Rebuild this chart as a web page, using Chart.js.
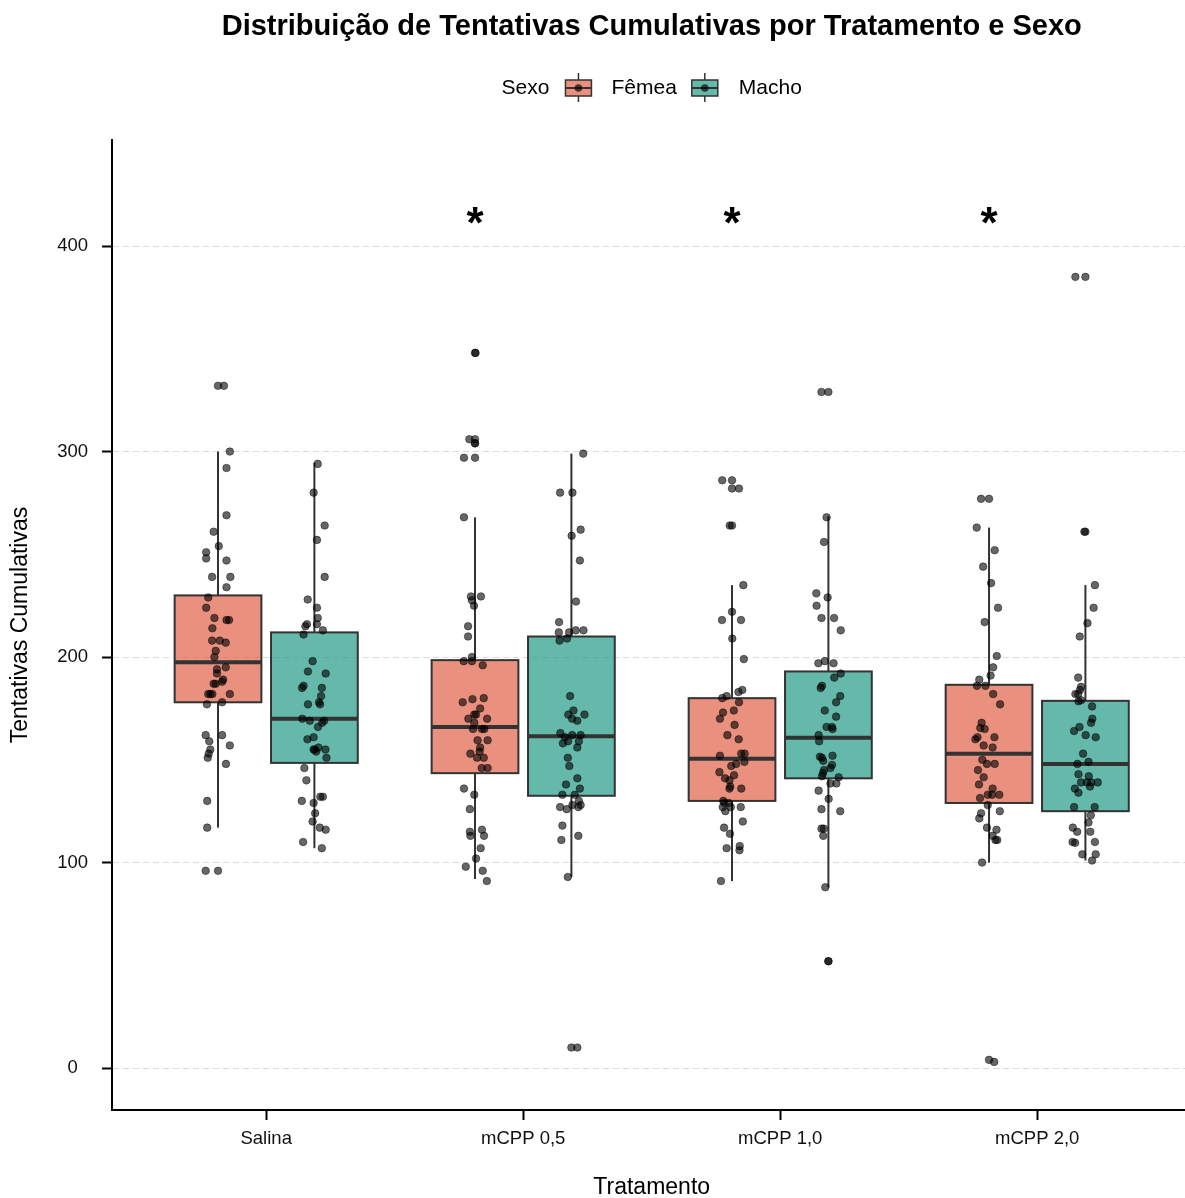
<!DOCTYPE html>
<html>
<head>
<meta charset="utf-8">
<script src="https://cdn.jsdelivr.net/npm/chart.js@4.4.1/dist/chart.umd.min.js"></script>
<style>
  html, body { margin: 0; padding: 0; background: #ffffff; overflow: hidden; width: 1185px; height: 1198px; }
  #wrap { width: 1185px; height: 1198px; overflow: hidden; }
  #chart { display: block; }
</style>
</head>
<body>
<div id="wrap"><canvas id="chart" width="1185" height="1198"></canvas></div>
<script>
// ---- categories, ticks, legend ----
const categories = ['Salina', 'mCPP 0,5', 'mCPP 1,0', 'mCPP 2,0'];
const sexes = ['Fêmea', 'Macho'];
const yTicks = [0, 100, 200, 300, 400];
const significance = ['', '*', '*', '*'];
const significanceLevel = 410;

// ---- box summaries: [lower whisker, Q1, median, Q3, upper whisker] ----
const boxFemea = [[117, 178, 197.5, 230, 300], [92, 143.5, 166, 198.5, 268], [91, 130, 150.5, 180, 235], [100, 129, 153, 186.5, 263]];
const boxMacho = [[107, 148.5, 170, 212, 294.5], [93, 132.5, 161.5, 210, 299], [88, 141, 160.7, 193, 268.5], [101, 125, 148, 178.7, 235]];
const outliersFemea = [[332, 96], [348, 306, 304, 297], [286, 282, 264], [277, 4]];
const outliersMacho = [[], [10], [329, 52], [385, 261]];

// ---- individual observations ----
const salinaFemea = [332,300,292,269,261,254,251,248,247,239,239,234,229,224,219,218,218,214,208,208,207,203,200,195,194,192,189,188,187,187,182,182,182,182,178,177,162,162,159,157,155,153,151,148,130,117,96];
const salinaMacho = [294,280,264,257,239,228,224,219,216,215,216,213,211,198,193,192,186,185,185,181,177,178,177,170,169,169,168,166,161,160,155,155,156,155,154,151,146,140,130,129,132,132,124,120,117,116,110,107];
const mcpp05Femea = [348,306,304,297,268,229.5,229.5,227.6,225,215,210,200,198,198,196,178,179.5,180,175,172,172,170,170,168,165,165,165,159.5,159.5,156,154,153,151,151,146,146,136,133,126,115,113,116,113,107,102,98,96,91];
const mcpp05Macho = [299,280,280,262,259,247,227,217,212,212,213,213,208,209,181,174,172,172,170,169,163,161,162,162,158,159,159,156,151,147,141,138,136,133,133,130,128,127,128,127,126,118,113,111,93,10];
const mcpp10Femea = [286,282,264,235,222,218,218,209,199,184,183,181,180,178,174,173,170,167,162,160,152,153,153,149,147,148,144,142.5,141,140,137,136,136,130,129,129,127,127,127,125,120,117,114,108,106,107,91];
const mcpp10Macho = [329,268,256,231,229,225,219,219,213,197,198,197,192,190,186,185,181,178,174,171,166,166,165,162,159,151.5,151,152,149.5,147.5,146,145,143.5,141.5,142,138.5,138.5,135,131,126,125,116.5,116.5,113,88,52];
const mcpp20Femea = [277,263,252,244,236,224,217,200.5,195,191,189,186,186,182,177,168,165.5,165,161,160,161,157,156,150,148,148,145,141.5,138,136,133,133,133,131.4,128,125,124,121.5,117,116,113,111,111,100,3];
const mcpp20Macho = [385,261,235,224,216.5,210,190,185.5,184,182,182,179,178.5,176,170,168,166,164,162,161,153,149,148,143,142,139,139,139,139,136,134,137,127,127,123,119.5,117,115,115,110,109.6,110,104,104,101];

// ---- horizontal jitter of each observation (category units) ----
const salinaFemeaJit = [0.023,0.046,0.033,0.033,-0.017,0.003,-0.046,-0.046,0.033,-0.023,0.048,0.033,-0.038,-0.046,-0.014,0.033,0.043,-0.022,-0.023,0.007,0.030,-0.009,-0.014,0.030,-0.004,-0.004,0.020,0.016,-0.017,-0.009,-0.038,-0.030,-0.022,0.046,0.016,-0.043,-0.048,0.016,-0.034,0.046,-0.030,-0.036,-0.040,0.031,-0.042,-0.042,-0.048];
const salinaMachoJit = [0.013,-0.003,0.040,0.010,0.040,-0.026,0.010,0.013,0.010,-0.035,-0.029,0.033,-0.042,-0.007,-0.025,0.044,-0.042,-0.048,0.029,0.026,-0.025,0.018,0.022,-0.047,-0.018,0.038,0.030,0.014,-0.003,-0.027,0.001,-0.003,0.016,0.043,0.007,0.047,-0.039,-0.031,-0.049,-0.003,0.023,0.033,0.003,-0.007,0.021,0.044,-0.044,0.029];
const mcpp05FemeaJit = [0.002,-0.022,0.000,-0.043,-0.043,-0.016,0.023,-0.012,-0.004,-0.027,-0.027,-0.012,-0.044,-0.012,0.030,-0.048,-0.010,0.034,0.020,0.004,-0.003,-0.026,0.047,-0.003,-0.008,0.027,0.036,0.010,0.049,0.020,0.018,-0.018,0.008,0.034,0.026,0.049,-0.043,-0.003,-0.020,-0.020,-0.018,0.027,0.035,0.022,0.004,-0.036,0.030,0.046];
const mcpp05MachoJit = [0.046,-0.044,0.004,0.036,0.001,0.033,0.018,-0.048,-0.049,-0.009,0.047,0.017,-0.046,-0.017,-0.005,0.008,-0.012,0.051,0.003,0.023,-0.043,-0.025,0.003,0.036,-0.033,-0.013,0.029,0.023,-0.014,-0.008,0.023,-0.021,0.033,-0.035,0.013,0.029,0.004,0.027,0.036,-0.044,-0.018,-0.035,0.027,-0.039,-0.014,0.023];
const mcpp10FemeaJit = [-0.038,0.027,-0.009,0.044,0.000,-0.039,0.035,0.001,0.046,0.040,0.025,-0.021,-0.038,0.027,0.007,-0.035,-0.047,0.010,-0.018,0.026,-0.047,0.036,0.049,0.048,-0.003,0.016,-0.049,0.008,-0.027,-0.010,-0.007,-0.010,0.036,-0.034,-0.030,-0.013,-0.036,-0.005,0.034,-0.026,0.042,-0.031,-0.008,0.030,0.029,-0.021,-0.043];
const mcpp10MachoJit = [-0.027,-0.007,-0.017,-0.047,-0.003,-0.046,-0.027,0.022,0.048,-0.039,-0.014,0.020,0.048,0.023,-0.025,-0.030,0.046,0.030,-0.014,0.030,-0.007,0.014,0.016,-0.038,-0.036,-0.033,-0.025,0.016,-0.020,0.014,0.008,-0.017,-0.021,0.040,-0.025,0.008,0.031,-0.038,0.001,-0.027,0.046,-0.027,-0.018,-0.020,-0.012,0.000];
const mcpp20FemeaJit = [-0.031,-0.048,0.022,-0.023,0.008,0.035,-0.017,0.030,0.016,0.006,-0.038,-0.047,-0.014,0.016,0.043,-0.029,-0.034,-0.017,-0.045,-0.053,0.021,-0.021,0.014,-0.026,-0.008,0.022,-0.043,-0.021,-0.039,0.014,0.012,0.040,-0.005,-0.035,-0.005,0.042,-0.031,-0.038,-0.008,0.029,0.014,0.025,0.032,-0.027,0.020];
const mcpp20MachoJit = [-0.039,-0.004,0.037,0.032,0.008,-0.022,-0.028,-0.017,-0.021,-0.039,-0.028,-0.017,-0.027,0.026,0.027,0.022,-0.023,-0.044,0.001,0.040,-0.009,0.012,-0.031,-0.027,0.013,-0.017,0.006,0.023,0.048,-0.041,-0.027,0.018,-0.044,0.036,0.021,0.012,-0.049,-0.032,0.019,-0.050,-0.040,0.037,-0.012,0.040,0.026];

// ---- layout and style ----
const FONT = '"Liberation Sans", Arial, Helvetica, sans-serif';
const DODGE = 0.1875;          // half of the dodge width between sexes
const BOX_WIDTH = 0.3375;      // width of each box in category units
const SEX_OFFSET = [-DODGE, DODGE];
const X_MIN = 0.4, X_MAX = 4.575, X_PANEL_MID = 2.5;
const FILLS = ['rgba(224,99,71,0.7)', 'rgba(35,155,136,0.7)'];
const LINE_COLOR = '#333333';
const POINT_BG = 'rgba(0,0,0,0.6)';
const POINT_BORDER = 'rgba(0,0,0,0.55)';

const femeaSets = [salinaFemea, mcpp05Femea, mcpp10Femea, mcpp20Femea];
const machoSets = [salinaMacho, mcpp05Macho, mcpp10Macho, mcpp20Macho];
const femeaJit = [salinaFemeaJit, mcpp05FemeaJit, mcpp10FemeaJit, mcpp20FemeaJit];
const machoJit = [salinaMachoJit, mcpp05MachoJit, mcpp10MachoJit, mcpp20MachoJit];

function jitteredPoints(sets, jits, sexIdx) {
  const pts = [];
  sets.forEach((vals, i) => vals.forEach((v, k) => {
    pts.push({ x: i + 1 + SEX_OFFSET[sexIdx] + jits[i][k], y: v });
  }));
  return pts;
}
function outlierPoints(sets, sexIdx) {
  const pts = [];
  sets.forEach((vals, i) => vals.forEach(v => pts.push({ x: i + 1 + SEX_OFFSET[sexIdx], y: v })));
  return pts;
}

function pointDataset(label, data) {
  return {
    label, data,
    backgroundColor: POINT_BG, borderColor: POINT_BORDER, borderWidth: 0.8,
    pointRadius: 3.8, pointHoverRadius: 3.8
  };
}

// Box-and-whisker bodies, drawn through the chart scales before the points
const boxPlugin = {
  id: 'boxes',
  beforeDatasetsDraw(chart) {
    const { ctx, scales: { x, y } } = chart;
    const seg = (x1, y1, x2, y2) => { ctx.beginPath(); ctx.moveTo(x1, y1); ctx.lineTo(x2, y2); ctx.stroke(); };
    ctx.save();
    [boxFemea, boxMacho].forEach((boxes, s) => {
      boxes.forEach(([lo, q1, med, q3, hi], i) => {
        const c = i + 1 + SEX_OFFSET[s];
        const xl = x.getPixelForValue(c - BOX_WIDTH / 2);
        const xr = x.getPixelForValue(c + BOX_WIDTH / 2);
        const xc = x.getPixelForValue(c);
        const yq1 = y.getPixelForValue(q1), yq3 = y.getPixelForValue(q3);
        ctx.strokeStyle = LINE_COLOR;
        ctx.lineWidth = 2;
        seg(xc, y.getPixelForValue(hi), xc, yq3);
        seg(xc, yq1, xc, y.getPixelForValue(lo));
        ctx.fillStyle = FILLS[s];
        ctx.fillRect(xl, yq3, xr - xl, yq1 - yq3);
        ctx.strokeRect(xl, yq3, xr - xl, yq1 - yq3);
        ctx.lineWidth = 4;
        const ym = y.getPixelForValue(med);
        seg(xl, ym, xr, ym);
      });
    });
    ctx.restore();
  }
};

// Title, legend, x-axis title and significance marks
const decorPlugin = {
  id: 'decor',
  afterDraw(chart) {
    const { ctx, scales: { x, y } } = chart;
    const cx = x.getPixelForValue(X_PANEL_MID);
    ctx.save();
    // title
    ctx.fillStyle = '#000';
    ctx.font = 'bold 29px ' + FONT;
    ctx.textAlign = 'center';
    ctx.textBaseline = 'alphabetic';
    ctx.fillText('Distribuição de Tentativas Cumulativas por Tratamento e Sexo', cx, 35);

    // x-axis title, centred on the full panel
    ctx.font = '23px ' + FONT;
    ctx.textBaseline = 'middle';
    ctx.fillText('Tratamento', cx, 1188);

    // legend
    ctx.font = '21px ' + FONT;
    const keyW = 26, keyH = 16;
    const gaps = [16, 20, 15, 21];
    const wTitle = ctx.measureText('Sexo').width;
    const wLab = sexes.map(s => ctx.measureText(s).width);
    const total = wTitle + gaps[0] + keyW + gaps[1] + wLab[0] + gaps[2] + keyW + gaps[3] + wLab[1];
    let lx = cx - total / 2;
    const ly = 88;
    ctx.textAlign = 'left';
    ctx.textBaseline = 'middle';
    ctx.fillText('Sexo', lx, ly);
    lx += wTitle + gaps[0];
    sexes.forEach((s, i) => {
      const kx = lx, kc = kx + keyW / 2;
      ctx.strokeStyle = LINE_COLOR;
      ctx.lineWidth = 1.5;
      ctx.beginPath(); ctx.moveTo(kc, ly - 15); ctx.lineTo(kc, ly + 14); ctx.stroke();
      ctx.fillStyle = '#ffffff';
      ctx.fillRect(kx, ly - keyH / 2, keyW, keyH);
      ctx.fillStyle = FILLS[i];
      ctx.fillRect(kx, ly - keyH / 2, keyW, keyH);
      ctx.strokeRect(kx, ly - keyH / 2, keyW, keyH);
      ctx.lineWidth = 2;
      ctx.beginPath(); ctx.moveTo(kx, ly); ctx.lineTo(kx + keyW, ly); ctx.stroke();
      ctx.fillStyle = 'rgba(0,0,0,0.65)';
      ctx.beginPath(); ctx.arc(kc, ly, 3.8, 0, Math.PI * 2); ctx.fill();
      lx += keyW + gaps[1 + i * 2];
      ctx.fillStyle = '#000';
      ctx.fillText(s, lx, ly);
      lx += wLab[i] + (i === 0 ? gaps[2] : 0);
    });

    // significance marks above the Fêmea boxes
    ctx.font = 'bold 44px ' + FONT;
    ctx.textAlign = 'center';
    ctx.textBaseline = 'middle';
    ctx.fillStyle = '#000';
    significance.forEach((m, i) => {
      if (!m) return;
      ctx.fillText(m, x.getPixelForValue(i + 1 + SEX_OFFSET[0]), y.getPixelForValue(significanceLevel));
    });
    ctx.restore();
  }
};

new Chart(document.getElementById('chart'), {
  type: 'scatter',
  data: {
    datasets: [
      pointDataset('Fêmea (outliers)', outlierPoints(outliersFemea, 0)),
      pointDataset('Macho (outliers)', outlierPoints(outliersMacho, 1)),
      pointDataset('Fêmea', jitteredPoints(femeaSets, femeaJit, 0)),
      pointDataset('Macho', jitteredPoints(machoSets, machoJit, 1))
    ]
  },
  options: {
    responsive: false,
    animation: false,
    events: [],
    layout: { autoPadding: false, padding: { top: 140, left: 0, right: 0, bottom: 0 } },
    plugins: { legend: { display: false }, tooltip: { enabled: false }, title: { display: false } },
    scales: {
      x: {
        type: 'linear', min: X_MIN, max: X_MAX,
        afterBuildTicks: s => { s.ticks = categories.map((c, i) => ({ value: i + 1 })); },
        afterFit: s => { s.height = 88; },
        ticks: {
          callback: v => categories[v - 1],
          font: { family: FONT, size: 18.5 }, color: '#111', padding: 8,
          autoSkip: false, maxRotation: 0
        },
        grid: { drawOnChartArea: false, drawTicks: true, tickLength: 10, tickWidth: 2, tickColor: '#000', color: '#000' },
        border: { display: true, color: '#000', width: 2 },
        title: { display: false }
      },
      y: {
        type: 'linear', min: -20.4, max: 451.6,
        afterBuildTicks: s => { s.ticks = yTicks.map(v => ({ value: v })); },
        afterFit: s => { s.width = 112; },
        ticks: { font: { family: FONT, size: 18.5 }, color: '#111', padding: 14, crossAlign: 'center' },
        grid: { color: '#d9d9d9', lineWidth: 1, drawTicks: true, tickLength: 10, tickWidth: 2, tickColor: '#000' },
        border: { display: true, color: '#000', width: 2, dash: [6, 4] },
        title: { display: true, text: 'Tentativas Cumulativas', color: '#000', font: { family: FONT, size: 23 }, padding: { top: 7, bottom: 0 } }
      }
    }
  },
  plugins: [boxPlugin, decorPlugin]
});
</script>
</body>
</html>
